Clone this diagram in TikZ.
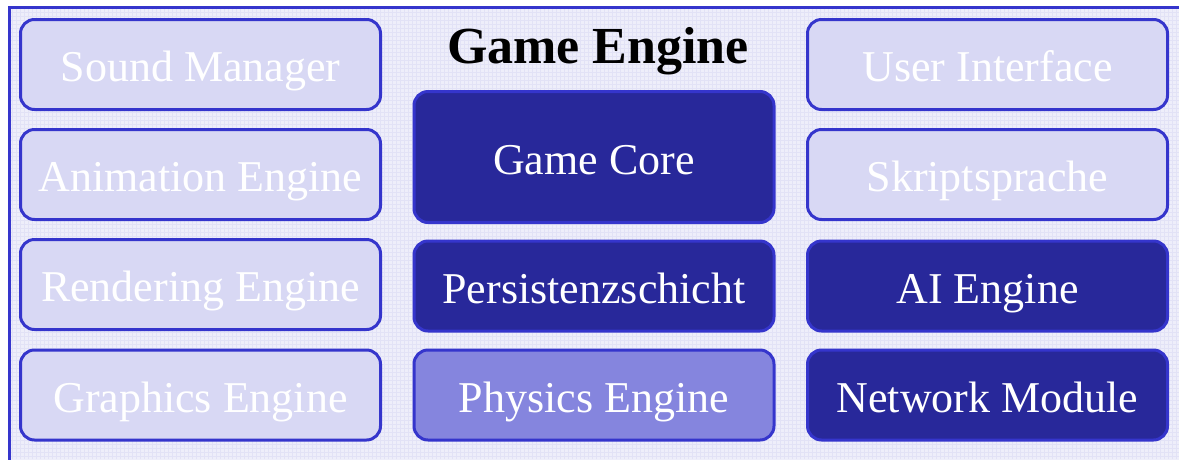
\documentclass[tikz,border=0pt]{standalone}
\usepackage{fontspec}
\setmainfont{Liberation Serif}
\usetikzlibrary{positioning}

\definecolor{rahmen}{HTML}{3535CC}
\definecolor{dunkel}{HTML}{28289A}
\definecolor{mittel}{HTML}{8585DE}
\definecolor{hell}{HTML}{D8D8F4}
\definecolor{grund}{HTML}{EEEEFA}
\definecolor{raster}{HTML}{E2E2F6}

\tikzset{
  modul/.style={draw=rahmen, line width=3pt, rounded corners=14pt,
    minimum width=360pt, minimum height=90pt, inner sep=0pt,
    text=white, font=\fontsize{44}{46}\selectfont,
    text height=36pt, text depth=2pt},
  inaktiv/.style={modul, fill=hell},
  aktiv/.style={modul, fill=dunkel},
  halb/.style={modul, fill=mittel}
}

\begin{document}
\begin{tikzpicture}[x=1pt,y=-1pt]
\useasboundingbox (0,0) rectangle (1179,459);
% Hintergrund
\fill[grund] (9,7) rectangle (1190,470);
\draw[raster, line width=0.6pt, step=4pt] (10,8) grid (1179,459);
\draw[rahmen, line width=3pt] (9,7) rectangle (1190,470);

\node [font=\fontsize{52}{54}\selectfont\bfseries, anchor=base, inner sep=0pt] (titel) at (598,63) {Game Engine};

% linke Spalte
\node [inaktiv] (sound) at (200.5,64.5) {Sound Manager};
\node [inaktiv] (animation) at (200.5,174.5) {Animation Engine};
\node [inaktiv] (rendering) at (200.5,284.5) {Rendering Engine};
\node [inaktiv] (graphics) at (200.5,395) {Graphics Engine};

% Mitte
\node [aktiv, minimum height=131pt] (core) at (594,157) {Game Core};
\node [aktiv] (persistenz) at (594,286) {Persistenzschicht};
\node [halb] (physics) at (594,395) {Physics Engine};

% rechte Spalte
\node [inaktiv] (ui) at (987.5,64.5) {User Interface};
\node [inaktiv] (skript) at (987.5,174.5) {Skriptsprache};
\node [aktiv] (ai) at (987.5,286) {AI Engine};
\node [aktiv] (network) at (987.5,395) {Network Module};
\end{tikzpicture}
\end{document}
